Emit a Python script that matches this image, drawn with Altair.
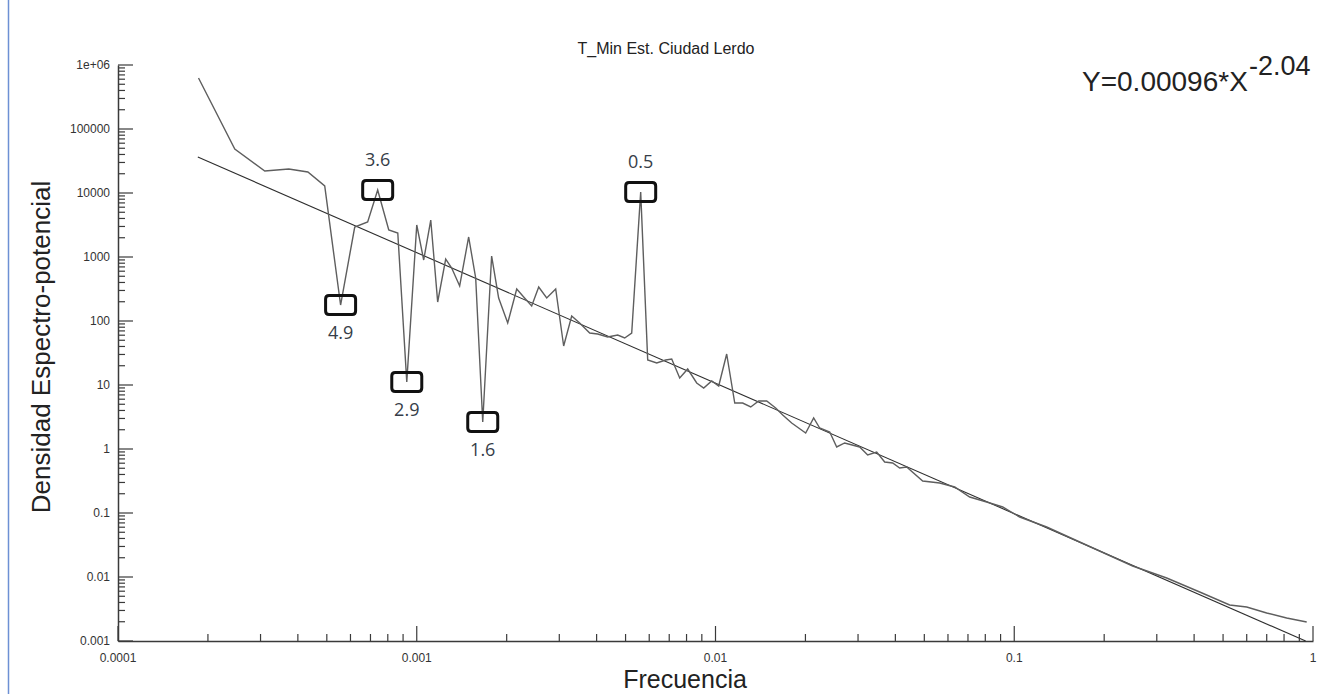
import altair as alt
import pandas as pd

# ---- data ----
freq = [0.000186, 0.000246, 0.000310, 0.000373, 0.000432, 0.000492, 0.000556, 0.000620,
        0.000685, 0.000740, 0.000806, 0.000864, 0.000926, 0.001000, 0.001055, 0.001114,
        0.001175, 0.001250, 0.001309, 0.001392, 0.001492, 0.001575, 0.001663, 0.001781,
        0.001880, 0.002016, 0.002161, 0.002280, 0.002425, 0.002560, 0.002723, 0.002918,
        0.003103, 0.003301, 0.003510, 0.003793, 0.004034, 0.004357, 0.004707, 0.004966,
        0.005242, 0.005618, 0.005930, 0.006357, 0.006813, 0.007136, 0.007590, 0.008071,
        0.008652, 0.009131, 0.009712, 0.010250, 0.010900, 0.011600, 0.012330, 0.013120,
        0.013950, 0.014840, 0.015900, 0.016790, 0.017990, 0.020040, 0.021310, 0.022320,
        0.024120, 0.025450, 0.027060, 0.030390, 0.032310, 0.034640, 0.036840, 0.039180,
        0.041350, 0.043650, 0.049380, 0.056300, 0.063190, 0.070950, 0.080860, 0.091470,
        0.104300, 0.128400, 0.165600, 0.249100, 0.323800, 0.417600, 0.526200, 0.599900,
        0.699800, 0.816300, 0.952600]
density = [626500, 48700, 22070, 23710, 21290, 12870, 177.8, 2942,
           3523, 11140, 2641, 2371, 11.14, 3162, 898.0, 3785,
           198.1, 930.5, 673.2, 352.3, 2054, 469.8, 2.641, 1036,
           228.8, 93.05, 316.2, 237.1, 171.5, 339.8, 228.8, 316.2,
           40.68, 119.7, 93.05, 64.94, 62.65, 56.23, 60.41, 54.25,
           64.94, 10360, 24.58, 22.07, 24.58, 25.48, 12.87, 17.78,
           10.75, 8.980, 11.55, 9.647, 30.50, 5.232, 5.232, 4.532,
           5.623, 5.623, 4.372, 3.398, 2.548, 1.778, 3.050, 2.129,
           1.844, 1.075, 1.241, 1.075, 0.8057, 0.8977, 0.6265, 0.6043,
           0.5048, 0.5233, 0.3162, 0.2941, 0.2548, 0.1778, 0.1485, 0.1241,
           0.08659, 0.06043, 0.03523, 0.01485, 0.009647, 0.005830, 0.003652, 0.003398,
           0.002738, 0.002288, 0.001981]

fit_freq = [0.000185, 0.945]
fit_density = [36500, 0.001]

peak_freq = [0.000740, 0.005618]
peak_density = [11140, 10360]
peak_label = ["3.6", "0.5"]

dip_freq = [0.000556, 0.000926, 0.001663]
dip_density = [177.8, 11.14, 2.641]
dip_label = ["4.9", "2.9", "1.6"]

x_major = [0.0001, 0.001, 0.01, 0.1, 1]
x_tick_labels = ["0.0001", "0.001", "0.01", "0.1", "1"]
y_major = [0.001, 0.01, 0.1, 1, 10, 100, 1000, 10000, 100000, 1000000]
y_tick_labels = ["0.001", "0.01", "0.1", "1", "10", "100", "1000", "10000", "100000", "1e+06"]
minor_mult = [2, 3, 4, 5, 6, 7, 8, 9]

title_text = "T_Min Est. Ciudad Lerdo"
x_title = "Frecuencia"
y_title = "Densidad Espectro-potencial"
eq_main = "Y=0.00096*X"
eq_exp = "-2.04"

# ---- build ----
W, H = 1195, 576
FONT = "Liberation Sans"
AX = "#3a3a3a"

xscale = alt.Scale(type="log", domain=[0.0001, 1])
yscale = alt.Scale(type="log", domain=[0.001, 1000000])

x_minor = [m * d for d in x_major[:-1] for m in minor_mult]
y_minor = [m * d for d in y_major[:-1] for m in minor_mult]

df = pd.DataFrame({"f": freq, "v": density})
fit_df = pd.DataFrame({"f": fit_freq, "v": fit_density})
peaks = pd.DataFrame({"f": peak_freq, "v": peak_density, "t": peak_label})
dips = pd.DataFrame({"f": dip_freq, "v": dip_density, "t": dip_label})
boxes = pd.concat([peaks, dips], ignore_index=True)

x_axis = alt.Axis(values=x_major, labels=False, ticks=False, grid=False,
                  domainColor=AX, domainWidth=1.5, title=None)
y_axis = alt.Axis(values=y_major, labels=False, ticks=False, grid=False,
                  domainColor=AX, domainWidth=1.5, title=None)

X = alt.X("f:Q", scale=xscale, axis=x_axis)
Y = alt.Y("v:Q", scale=yscale, axis=y_axis)

fit = alt.Chart(fit_df).mark_line(color="#2e2e2e", strokeWidth=1.1).encode(x=X, y=Y)

spec = alt.Chart(df).mark_line(color="#5e5e5e", strokeWidth=1.4).encode(
    x=X, y=Y, order=alt.Order("f:Q"),
)

box_path = ("M -0.77,-0.633 L 0.77,-0.633 Q 1,-0.633 1,-0.4 L 1,0.4 Q 1,0.633 0.77,0.633 "
            "L -0.77,0.633 Q -1,0.633 -1,0.4 L -1,-0.4 Q -1,-0.633 -0.77,-0.633 Z")
box = alt.Chart(boxes).mark_point(shape=box_path, size=900, filled=False,
                                  stroke="#111", strokeWidth=3, opacity=1).encode(x=X, y=Y)

lab_kw = dict(font="Open Sans", fontSize=18, color="#363d48", baseline="middle", align="center")
peak_text = alt.Chart(peaks).mark_text(dy=-29, **lab_kw).encode(x=X, y=Y, text="t:N")
dip_text = alt.Chart(dips).mark_text(dy=29, **lab_kw).encode(x=X, y=Y, text="t:N")

def ticks_y(vals, length):
    return alt.Chart(pd.DataFrame({"v": vals})).mark_rule(color=AX, strokeWidth=1.2).encode(
        y=Y, x=alt.value(0), x2=alt.value(length),
    )

def ticks_x(vals, length):
    return alt.Chart(pd.DataFrame({"f": vals})).mark_rule(color=AX, strokeWidth=1.2).encode(
        x=X, y=alt.value(H), y2=alt.value(H - length),
    )

xlab = alt.Chart(pd.DataFrame({"f": x_major, "t": x_tick_labels})).mark_text(
    font=FONT, fontSize=12, color="#333", align="center", baseline="middle"
).encode(x=X, y=alt.value(H + 17), text="t:N")
ylab = alt.Chart(pd.DataFrame({"v": y_major, "t": y_tick_labels})).mark_text(
    font=FONT, fontSize=12, color="#333", align="right", baseline="middle"
).encode(y=Y, x=alt.value(-8), text="t:N")

def text_layer(txt, x, y, size, **kw):
    return alt.Chart(pd.DataFrame({"t": [txt]})).mark_text(
        font=FONT, fontSize=size, color="#222", **kw
    ).encode(text="t:N", x=alt.value(x), y=alt.value(y))

title = text_layer(title_text, 548, -16, 16, align="center", baseline="middle")
xt = text_layer(x_title, 567, 623, 25, align="center", baseline="alphabetic")
yt = text_layer(y_title, -68, 282, 26, align="center", baseline="alphabetic", angle=270)
eq1 = text_layer(eq_main, 964, 26, 28, align="left", baseline="alphabetic")
eq2 = text_layer(eq_exp, 1131, 10, 27, align="left", baseline="alphabetic")

border = alt.Chart(pd.DataFrame({"a": [0]})).mark_rule(color="#6d90d4", strokeWidth=1.5).encode(
    x=alt.value(-109.5), y=alt.value(-65), y2=alt.value(H + 53),
)

chart = alt.layer(
    fit, spec,
    ticks_y(y_major, 15), ticks_y(y_minor, 7),
    ticks_x(x_major, 15), ticks_x(x_minor, 7),
    xlab, ylab,
    box, peak_text, dip_text,
    title, xt, yt, eq1, eq2, border,
).properties(
    width=W, height=H,
    autosize=alt.AutoSizeParams(type="none"),
    padding={"left": 118, "top": 65, "right": 9, "bottom": 53},
    background="white",
).configure_view(strokeWidth=0)

chart.save("out.html", embed_options={"renderer": "svg", "actions": False})
